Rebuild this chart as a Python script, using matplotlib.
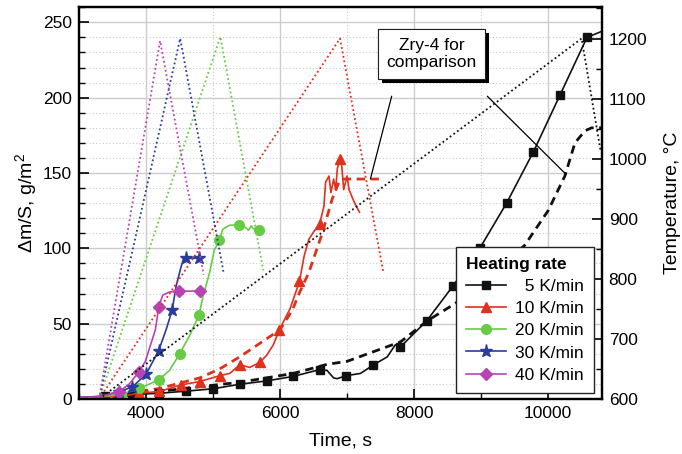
import numpy as np
import matplotlib
matplotlib.use('Agg')
import matplotlib.pyplot as plt
import matplotlib.patheffects as pe
from matplotlib.ticker import MultipleLocator

plt.rcParams['font.family'] = ['Liberation Sans', 'DejaVu Sans']
plt.rcParams['font.size'] = 12
plt.rcParams['mathtext.fontset'] = 'custom'
plt.rcParams['mathtext.rm'] = 'Liberation Sans'
plt.rcParams['mathtext.it'] = 'Liberation Sans'

# --- mass gain, g/m^2 (solid with markers) ---
t5 = [3000, 3200, 3390, 3790, 4190, 4595, 5000, 5400, 5800, 6195, 6590, 6700, 6760, 6800,
      6850, 6990, 7200, 7390, 7600, 7720, 7795, 8190, 8580, 8980, 9380, 9780, 10180, 10580, 10800]
m5 = [1, 1.5, 2, 3, 3.8, 5.2, 6.8, 9.8, 12, 15, 19.5, 19, 16, 14,
      13.5, 15.5, 17, 22.5, 28, 36, 34.5, 52, 75, 100, 130, 164, 202, 240, 244]
mk5 = [3390, 3790, 4190, 4595, 5000, 5400, 5800, 6195, 6590, 6990, 7390, 7795, 8190, 8580,
       8980, 9380, 9780, 10180, 10580]

t10 = [3000, 3300, 3590, 3890, 4200, 4515, 4800, 5100, 5250, 5400, 5550, 5700, 5800, 5900,
       5990, 6150, 6290, 6360, 6430, 6510, 6590, 6655, 6680, 6730, 6760, 6800, 6830, 6855,
       6890, 6920, 6950, 7000, 7030, 7075, 7125, 7185]
m10 = [1, 1.5, 1.5, 3.8, 5, 9.3, 11.6, 15.5, 17, 22.7, 21, 24.4, 29, 36,
       46, 60, 78, 95, 106, 111.5, 116, 128, 144, 148, 137, 146, 139, 153,
       159, 155, 139, 148, 139, 134, 129, 124]
mk10 = [3590, 3890, 4200, 4515, 4800, 5100, 5400, 5700, 5990, 6290, 6590, 6890]

t20 = [3000, 3300, 3620, 3900, 4190, 4350, 4500, 4650, 4790, 4850, 4950, 5020, 5095, 5145,
       5245, 5390, 5480, 5530, 5570, 5600, 5690]
m20 = [1, 1.5, 3, 7, 12.7, 19, 29.8, 42, 55.6, 68, 84, 99, 105.3, 112.7,
       115.3, 115.6, 114, 112, 115, 113, 112.2]
mk20 = [3620, 3900, 4190, 4500, 4790, 5095, 5390, 5690]

t30 = [3000, 3300, 3590, 3790, 4000, 4190, 4300, 4390, 4450, 4525, 4560, 4590, 4790]
m30 = [1, 1.5, 4.9, 7.8, 16.4, 32.2, 46, 58.9, 75, 88, 93, 93.5, 93.5]
mk30 = [3590, 3790, 4000, 4190, 4390, 4590, 4790]

t40 = [3000, 3300, 3600, 3750, 3900, 3990, 4140, 4190, 4250, 4350, 4490, 4800]
m40 = [1, 1.5, 4.9, 10, 18.2, 25, 46, 61, 69, 71, 71.6, 71.6]
mk40 = [3600, 3900, 4190, 4490, 4800]

# --- Zry-4 comparison (dashed) ---
tz5 = [3300, 4000, 4800, 5400, 6200, 6700, 7000, 7800, 8200, 8600, 9000, 9300, 9650, 10000,
       10250, 10400, 10550, 10650, 10800]
mz5 = [0, 4, 8.2, 11.1, 17, 23, 25, 38, 52, 63, 76, 88, 102, 125,
       148, 170, 178, 180, 180]
tz10 = [3300, 3600, 4200, 4800, 5100, 5400, 5700, 6000, 6184, 6284, 6430, 6630, 6780, 6880,
        6950, 7520]
mz10 = [0, 2.7, 7, 14, 20, 28, 37, 46, 59, 70, 84, 110, 133, 144,
        146, 146]

# --- temperature, degC (dotted) ---
tT5, TT5 = [3300, 10500, 10780], [600, 1200, 1015]
tT10, TT10 = [3300, 6895, 7540], [600, 1200, 812]
tT20, TT20 = [3300, 5110, 5750], [600, 1203, 814]
tT30, TT30 = [3300, 4510, 5155], [600, 1200, 812]
tT40, TT40 = [3300, 4210, 4860], [600, 1196, 807]

labels = ['  5 K/min', '10 K/min', '20 K/min', '30 K/min', '40 K/min']
colors = ['#111111', '#e0301e', '#66cc44', '#2a3c9c', '#b844b4']
markers = ['s', '^', 'o', '*', 'D']
msizes = [6, 7.5, 7, 9.5, 6.5]

fig = plt.figure(figsize=(6.82, 4.54), dpi=100)
ax = fig.add_axes([0.1158, 0.1211, 0.7665, 0.8629])
ax2 = ax.twinx()

ax.set_xlim(3000, 10800)
ax.set_ylim(0, 260)
ax2.set_ylim(600, 1252)

ax.set_axisbelow(True)
ax.xaxis.set_major_locator(MultipleLocator(2000))
ax.xaxis.set_minor_locator(MultipleLocator(1000))
ax.yaxis.set_major_locator(MultipleLocator(50))
ax.yaxis.set_minor_locator(MultipleLocator(10))
ax2.yaxis.set_major_locator(MultipleLocator(100))
ax2.yaxis.set_minor_locator(MultipleLocator(50))
ax.grid(which='major', color='#cccccc', lw=1.0, ls='-')
ax.grid(which='minor', color='#c8c8c8', lw=0.8, ls=(0, (1, 2)))

for a in (ax, ax2):
    a.tick_params(which='both', direction='in', labelsize=12.5, pad=5)
    a.tick_params(which='major', length=7, width=1.2)
    a.tick_params(which='minor', length=4, width=1.0)
    for s in a.spines.values():
        s.set_linewidth(1.6)
ax.tick_params(top=False, right=False, which='both')
ax2.tick_params(which='both', left=False)

# temperature curves
for tt, TT, c in zip([tT5, tT10, tT20, tT30, tT40], [TT5, TT10, TT20, TT30, TT40], colors):
    ax2.plot(tt, TT, color=c, lw=1.3, ls=(0, (1, 1.5)), zorder=2)

# Zry-4 comparison curves
ax.plot(tz5, mz5, color='#111111', lw=2, ls=(0, (3, 2)), zorder=3)
ax.plot(tz10, mz10, color='#e0301e', lw=2, ls=(0, (3, 2)), zorder=3)

handles = []
for tt, mm, mk, c, m, ms, lab in zip([t5, t10, t20, t30, t40], [m5, m10, m20, m30, m40],
                                      [mk5, mk10, mk20, mk30, mk40], colors, markers,
                                      msizes, labels):
    idx = list(np.nonzero(np.isin(tt, mk))[0])
    h, = ax.plot(tt, mm, color=c, lw=1.2, marker=m, ms=ms, markevery=idx,
                 mec=c, mfc=c, zorder=4, label=lab)
    handles.append(h)

ax.set_xlabel('Time, s', fontsize=14, labelpad=8)
ax.set_ylabel('Δm/S, g/m$^2$', fontsize=14, labelpad=3)
ax2.set_ylabel('Temperature, °C', fontsize=14, labelpad=12)

leg = ax2.legend(handles, labels, title='Heating rate', loc='lower right',
                 bbox_to_anchor=(0.985, 0.0153), borderaxespad=0, fontsize=12.5,
                 handlelength=2.3, labelspacing=0.4, borderpad=0.6, handletextpad=0.5,
                 fancybox=False, framealpha=1, edgecolor='#222222',
                 alignment='left')
leg.get_title().set_fontweight('bold')
leg.get_title().set_fontsize(12.5)
leg.get_frame().set_linewidth(1.0)

# annotation for comparison curves
txt = ax2.annotate('Zry-4 for\ncomparison', xy=(8260, 229), xycoords=ax.transData,
                   ha='center', va='center', fontsize=12.5, zorder=6,
                   bbox=dict(boxstyle='square,pad=0.5', fc='white', ec='#222222', lw=0.8))
txt.get_bbox_patch().set_path_effects([pe.withSimplePatchShadow(offset=(3, -3),
                                       shadow_rgbFace='k', alpha=1), pe.Normal()])
ax2.annotate('', xy=(7348, 146), xytext=(7666, 201), xycoords=ax.transData,
             textcoords=ax.transData,
             arrowprops=dict(arrowstyle='-', color='k', lw=0.9, shrinkA=0, shrinkB=0))
ax2.annotate('', xy=(10270, 149), xytext=(9092, 201), xycoords=ax.transData,
             textcoords=ax.transData,
             arrowprops=dict(arrowstyle='-', color='k', lw=0.9, shrinkA=0, shrinkB=0))

fig.savefig('out.png', dpi=100)
